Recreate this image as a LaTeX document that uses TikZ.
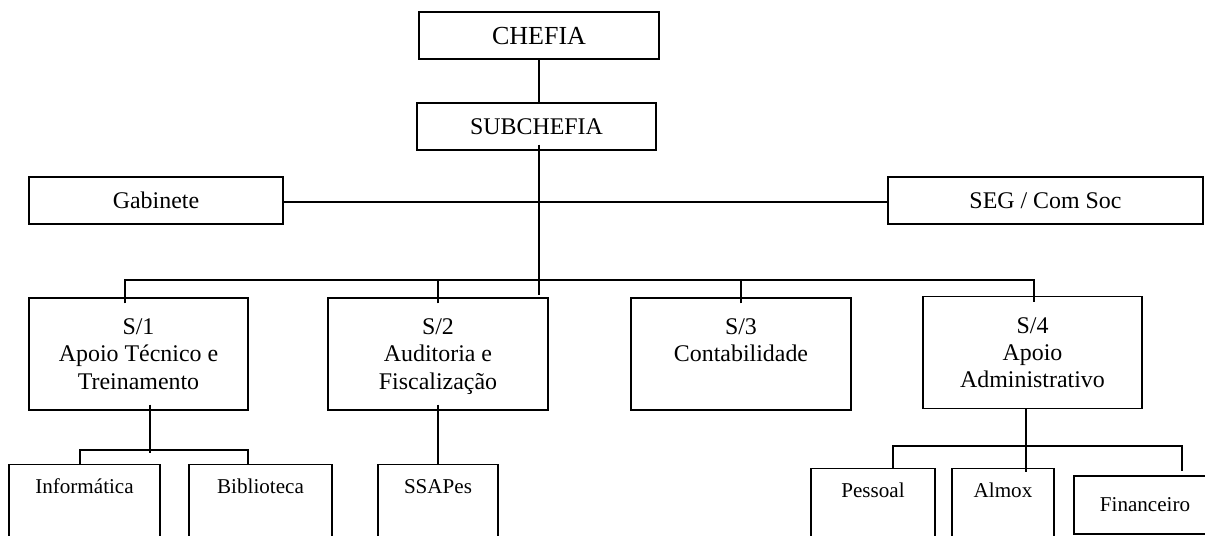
\documentclass[tikz,border=0pt]{standalone}
\usepackage{fontspec}
\setmainfont{Liberation Serif}
\usetikzlibrary{calc}
\begin{document}
\begin{tikzpicture}[x=0.025cm, y=-0.025cm,
  box/.style={draw, rectangle, line width=0.8pt, align=center, text depth=0pt, font=\fontsize{17}{19.5}\selectfont},
  unitbox/.style={draw, rectangle, line width=0.8pt, anchor=north, font=\fontsize{15}{18}\selectfont, text height=0.6cm, text depth=2.5cm},
  link/.style={line width=1.2pt}]
\useasboundingbox (0,0) rectangle (1205,535);
\clip (0,0) rectangle (1205,535);
\node[box, minimum width=6cm, minimum height=1.175cm, font=\fontsize{18.5}{20}\selectfont] (chefia) at (539,35.5) {CHEFIA};
\node[box, minimum width=5.975cm, minimum height=1.175cm] (subchefia) at (536.5,126.5) {SUBCHEFIA};
\node[box, minimum width=6.35cm, minimum height=1.175cm] (gab) at (156,200.5) {Gabinete};
\node[box, minimum width=7.875cm, minimum height=1.175cm] (seg) at (1045.5,200.5) {SEG / Com Soc};
\node[box, minimum width=5.475cm, minimum height=2.8cm] (s1) at (138.5,354) {S/1\\Apoio Técnico e\\Treinamento};
\node[box, minimum width=5.5cm, minimum height=2.8cm] (s2) at (438,354) {S/2\\Auditoria e\\Fiscalização};
\node[box, minimum width=5.5cm, minimum height=2.8cm] (s3) at (741,354) {S/3\\Contabilidade\\~};
\node[box, minimum width=5.475cm, minimum height=2.8cm] (s4) at (1032.5,352.5) {S/4\\Apoio\\Administrativo};
\node[unitbox, minimum width=3.775cm] (info) at (84.5,464) {Informática};
\node[unitbox, minimum width=3.575cm] (bib) at (260.5,464) {Biblioteca};
\node[unitbox, minimum width=3cm] (ssapes) at (438,464) {SSAPes};
\node[unitbox, minimum width=3.1cm] (pessoal) at (873,468) {Pessoal};
\node[unitbox, minimum width=2.55cm] (almox) at (1003,468) {Almox};
\node[box, minimum width=3.55cm, minimum height=1.45cm, font=\fontsize{15}{18}\selectfont] (fin) at (1145,505) {Financeiro};
\coordinate (bus) at (539,280);
\coordinate (j1) at (150,450);
\coordinate (j4) at (1026,446);
\draw[link] (chefia.south) -- (chefia.south |- subchefia.north);
\draw[link] ($(subchefia.south -| bus)+(0,-6)$) -- ($(bus)+(0,15)$);
\draw[link] ($(gab.east)+(0,1.5)$) -- ($(gab.east -| seg.west)+(0,1.5)$);
\draw[link] ($(s1.north)+(-13.5,6)$) |- (bus) -| ($(s4.north)+(1.5,6)$);
\draw[link] ($(s2.north)+(0,6)$) -- (s2.north |- bus);
\draw[link] ($(s3.north)+(0,6)$) -- (s3.north |- bus);
\draw[link] ($(s1.south -| j1)+(0,-6)$) -- ($(j1)+(0,3)$);
\draw[link] ($(info.north)+(-4.5,0)$) |- (j1) -| ($(bib.north)+(-12.5,0)$);
\draw[link] ($(s2.south)+(0,-6)$) -- (ssapes.north);
\draw[link] (s4.south -| j4) -- ($(almox.north -| j4)+(0,4)$);
\draw[link] ($(pessoal.north)+(20,0)$) |- (j4) -| ($(fin.north)+(37,-4)$);
\end{tikzpicture}
\end{document}
